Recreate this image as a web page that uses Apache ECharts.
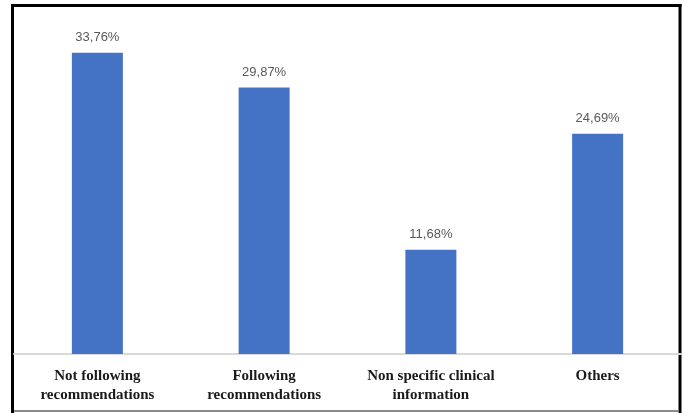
<!DOCTYPE html>
<html>
<head>
<meta charset="utf-8">
<script src="https://cdn.jsdelivr.net/npm/echarts@6/dist/echarts.min.js"></script>
<style>
  html, body { margin: 0; padding: 0; background: #fff; }
  #chart { width: 686px; height: 413px; }
</style>
</head>
<body>
<div id="chart"></div>
<script>
// Category names (two-line labels under the axis)
const categories = [
  'Not following\nrecommendations',
  'Following\nrecommendations',
  'Non specific clinical\ninformation',
  'Others'
];
// Share of each category, in percent
const values = [33.76, 29.87, 11.68, 24.69];

const chart = echarts.init(document.getElementById('chart'), null, { renderer: 'canvas' });

chart.setOption({
  animation: false,
  backgroundColor: '#ffffff',
  grid: { left: 14, right: 5, top: 15, bottom: 59 },
  xAxis: {
    type: 'category',
    data: categories,
    axisLine: { show: true, lineStyle: { color: '#d9d9d9', width: 2 } },
    axisTick: { show: false },
    axisLabel: {
      interval: 0,
      margin: 13,
      color: '#1a1a1a',
      fontFamily: 'Liberation Serif',
      fontWeight: 'bold',
      fontSize: 15,
      lineHeight: 19
    }
  },
  yAxis: {
    type: 'value',
    min: 0,
    max: 38,
    show: false,
    splitLine: { show: false }
  },
  series: [{
    type: 'bar',
    data: values,
    barWidth: 51,
    itemStyle: { color: '#4472c4' },
    label: {
      show: true,
      position: 'top',
      distance: 9,
      color: '#595959',
      fontFamily: 'Liberation Sans',
      fontSize: 13,
      formatter: p => p.value.toFixed(2).replace('.', ',') + '%'
    }
  }],
  graphic: [
    // frame around the figure
    { type: 'line', shape: { x1: 12.5, y1: 4, x2: 12.5, y2: 413 }, style: { stroke: '#000', lineWidth: 3 } },
    { type: 'line', shape: { x1: 11, y1: 5.5, x2: 681.5, y2: 5.5 }, style: { stroke: '#000', lineWidth: 3 } },
    { type: 'line', shape: { x1: 680, y1: 4, x2: 680, y2: 413 }, style: { stroke: '#000', lineWidth: 3 } },
    { type: 'line', shape: { x1: 14, y1: 411, x2: 678.5, y2: 411 }, style: { stroke: '#8c8c8c', lineWidth: 2 } }
  ]
});
</script>
</body>
</html>
